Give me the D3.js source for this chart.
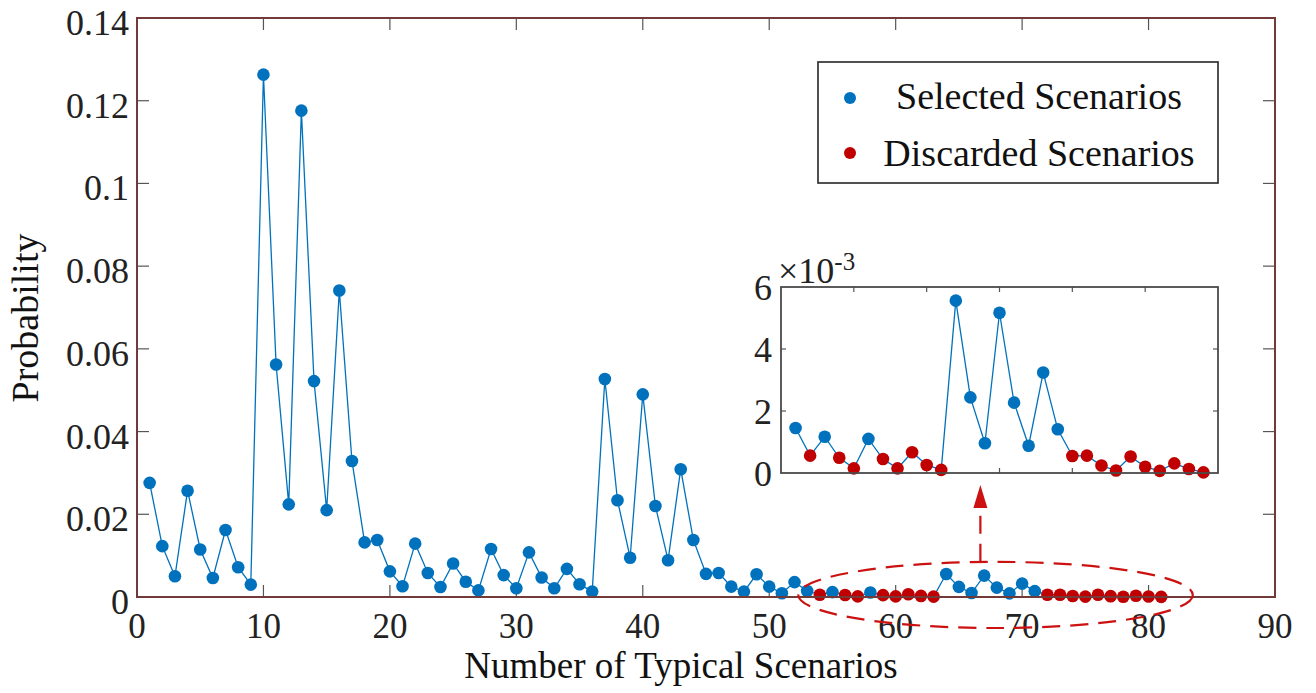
<!DOCTYPE html>
<html>
<head>
<meta charset="utf-8">
<script src="https://cdn.jsdelivr.net/npm/d3@7"></script>
<style>
  html, body { margin: 0; padding: 0; background: #fff; }
  svg { display: block; font-family: "Liberation Serif", "Times New Roman", serif; }
</style>
</head>
<body>
<div id="chart"></div>
<script>
// Data: probability of each typical scenario (scenario number = position + 1)
const probability = [
    0.0276, 0.0123, 0.0050, 0.0257, 0.0115, 0.0046, 0.0162, 0.0072, 0.0030, 0.1263,
    0.0562, 0.0224, 0.1176, 0.0522, 0.0210, 0.0741, 0.0329, 0.0132, 0.0138, 0.0062,
    0.0026, 0.0129, 0.0058, 0.0024, 0.0081, 0.0037, 0.0016, 0.0116, 0.0053, 0.0021,
    0.0108, 0.0047, 0.0021, 0.0068, 0.0031, 0.0013, 0.0527, 0.0234, 0.0095, 0.0490,
    0.0220, 0.0089, 0.0309, 0.0138, 0.0056, 0.0058, 0.0025, 0.0013, 0.0055, 0.0025,
    0.0009, 0.0036, 0.00145, 0.00056, 0.00117, 0.00049, 0.00015, 0.00110, 0.00045, 0.00015,
    0.00067, 0.00026, 0.00010, 0.00556, 0.00244, 0.00096, 0.00517, 0.00227, 0.00088, 0.00324,
    0.00141, 0.00055, 0.00056, 0.00024, 0.00008, 0.00053, 0.00020, 0.00007, 0.00031, 0.00013,
    0.00002
];
const discarded = [54, 56, 57, 59, 60, 61, 62, 63, 72, 73, 74, 75, 76, 77, 78, 79, 80, 81];
const legendLabels = ["Selected Scenarios", "Discarded Scenarios"];

const xTicks = [0, 10, 20, 30, 40, 50, 60, 70, 80, 90];
const yTicks = [0, 0.02, 0.04, 0.06, 0.08, 0.1, 0.12, 0.14];
const insetStart = 53;              // first scenario shown in the zoomed panel
const insetXTicks = [5, 10, 15, 20, 25];
const insetYTicks = [0, 2, 4, 6];   // x10^-3

const blue = "#0072BD";
const red = "#C00000";
const dashRed = "#CC1111";

const points = probability.map((p, i) => ({
    n: i + 1,
    p: p,
    discarded: discarded.includes(i + 1)
}));

const width = 1316, height = 693;
const plot = { left: 137, right: 1275, top: 18, bottom: 597 };

const svg = d3.select("#chart").append("svg")
    .attr("width", width)
    .attr("height", height);

const x = d3.scaleLinear().domain([0, 90]).range([plot.left, plot.right]);
const y = d3.scaleLinear().domain([0, 0.14]).range([plot.bottom, plot.top]);

const fmt = d => String(+d.toFixed(2));

// ticks (inside, all four sides)
const tickG = svg.append("g").attr("stroke", "#555").attr("stroke-width", 1.2);
tickG.selectAll(".xt").data(xTicks.slice(1, -1)).enter().append("line")
    .attr("x1", d => x(d)).attr("x2", d => x(d))
    .attr("y1", plot.bottom).attr("y2", plot.bottom - 12);
tickG.selectAll(".xt2").data(xTicks.slice(1, -1)).enter().append("line")
    .attr("x1", d => x(d)).attr("x2", d => x(d))
    .attr("y1", plot.top).attr("y2", plot.top + 12);
tickG.selectAll(".yt").data(yTicks.slice(1, -1)).enter().append("line")
    .attr("x1", plot.left).attr("x2", plot.left + 12)
    .attr("y1", d => y(d)).attr("y2", d => y(d));
tickG.selectAll(".yt2").data(yTicks.slice(1, -1)).enter().append("line")
    .attr("x1", plot.right).attr("x2", plot.right - 12)
    .attr("y1", d => y(d)).attr("y2", d => y(d));

// tick labels
svg.selectAll(".xl").data(xTicks).enter().append("text")
    .attr("x", d => x(d))
    .attr("y", plot.bottom + 41)
    .attr("text-anchor", "middle")
    .style("font-size", "35px")
    .attr("fill", "#222")
    .text(d => d);

svg.selectAll(".yl").data(yTicks).enter().append("text")
    .attr("x", plot.left - 8)
    .attr("y", d => y(d) + 17)
    .attr("text-anchor", "end")
    .style("font-size", "36px")
    .attr("fill", "#222")
    .text(fmt);

// axis titles
svg.append("text")
    .attr("x", 681)
    .attr("y", 678)
    .attr("text-anchor", "middle")
    .style("font-size", "37px")
    .attr("fill", "#111")
    .text("Number of Typical Scenarios");

svg.append("text")
    .attr("transform", "translate(38,318) rotate(-90)")
    .attr("text-anchor", "middle")
    .style("font-size", "38px")
    .attr("fill", "#111")
    .text("Probability");

// series line + markers
const line = d3.line().x(d => x(d.n)).y(d => y(d.p));
svg.append("path")
    .datum(points)
    .attr("d", line)
    .attr("fill", "none")
    .attr("stroke", blue)
    .attr("stroke-width", 1.3);

svg.selectAll(".pt").data(points).enter().append("circle")
    .attr("cx", d => x(d.n))
    .attr("cy", d => y(d.p))
    .attr("r", 6.3)
    .attr("fill", d => d.discarded ? red : blue);

// frame
svg.append("rect")
    .attr("x", plot.left).attr("y", plot.top)
    .attr("width", plot.right - plot.left)
    .attr("height", plot.bottom - plot.top)
    .attr("fill", "none")
    .attr("stroke", "#733a3a")
    .attr("stroke-width", 2);

// dashed ellipse around the tail + arrow to the inset
const ell = { cx: 67.9, cy: 0.0005, rx: 15.6, ry: 0.008 };
svg.append("ellipse")
    .attr("cx", x(ell.cx))
    .attr("cy", y(ell.cy))
    .attr("rx", x(ell.cx + ell.rx) - x(ell.cx))
    .attr("ry", y(0) - y(ell.ry))
    .attr("fill", "none")
    .attr("stroke", dashRed)
    .attr("stroke-width", 2.2)
    .attr("stroke-dasharray", "18,10");

// inset
const inset = { left: 781, right: 1218, top: 287, bottom: 473 };
const ix = d3.scaleLinear().domain([0, 30]).range([inset.left, inset.right]);
const iy = d3.scaleLinear().domain([0, 6]).range([inset.bottom, inset.top]);
const insetPts = points.filter(d => d.n >= insetStart)
    .map(d => ({ k: d.n - insetStart + 1, v: d.p * 1000, discarded: d.discarded }));

const arrowX = x(66.7);
const arrowTop = inset.bottom + 12;
svg.append("line")
    .attr("x1", arrowX).attr("x2", arrowX)
    .attr("y1", y(ell.cy) - (y(0) - y(ell.ry)))
    .attr("y2", arrowTop + 22)
    .attr("stroke", dashRed)
    .attr("stroke-width", 2.2)
    .attr("stroke-dasharray", "18,10");
svg.append("path")
    .attr("d", `M${arrowX},${arrowTop} L${arrowX - 7},${arrowTop + 23} L${arrowX + 7},${arrowTop + 23} Z`)
    .attr("fill", dashRed);

const ig = svg.append("g");
ig.append("rect")
    .attr("x", inset.left).attr("y", inset.top)
    .attr("width", inset.right - inset.left)
    .attr("height", inset.bottom - inset.top)
    .attr("fill", "#fff");

const itick = ig.append("g").attr("stroke", "#555").attr("stroke-width", 1.2);
itick.selectAll(".a").data(insetXTicks).enter().append("line")
    .attr("x1", d => ix(d)).attr("x2", d => ix(d))
    .attr("y1", inset.bottom).attr("y2", inset.bottom - 5);
itick.selectAll(".b").data(insetXTicks).enter().append("line")
    .attr("x1", d => ix(d)).attr("x2", d => ix(d))
    .attr("y1", inset.top).attr("y2", inset.top + 5);
itick.selectAll(".c").data(insetYTicks.slice(1, -1)).enter().append("line")
    .attr("x1", inset.left).attr("x2", inset.left + 5)
    .attr("y1", d => iy(d)).attr("y2", d => iy(d));
itick.selectAll(".d").data(insetYTicks.slice(1, -1)).enter().append("line")
    .attr("x1", inset.right).attr("x2", inset.right - 5)
    .attr("y1", d => iy(d)).attr("y2", d => iy(d));

ig.selectAll(".iyl").data(insetYTicks).enter().append("text")
    .attr("x", inset.left - 9)
    .attr("y", d => iy(d) + 13)
    .attr("text-anchor", "end")
    .style("font-size", "36px")
    .attr("fill", "#222")
    .text(d => d);

const expo = ig.append("text")
    .attr("x", inset.left - 3)
    .attr("y", 283)
    .style("font-size", "36px")
    .attr("fill", "#222");
expo.append("tspan").text("\u00d710");
expo.append("tspan").attr("dy", -13).style("font-size", "25px").text("-3");

ig.append("path")
    .datum(insetPts)
    .attr("d", d3.line().x(d => ix(d.k)).y(d => iy(d.v)))
    .attr("fill", "none")
    .attr("stroke", blue)
    .attr("stroke-width", 1.3);

ig.selectAll(".ipt").data(insetPts).enter().append("circle")
    .attr("cx", d => ix(d.k))
    .attr("cy", d => iy(d.v))
    .attr("r", 6.3)
    .attr("fill", d => d.discarded ? red : blue);

ig.append("rect")
    .attr("x", inset.left).attr("y", inset.top)
    .attr("width", inset.right - inset.left)
    .attr("height", inset.bottom - inset.top)
    .attr("fill", "none")
    .attr("stroke", "#4a4a4a")
    .attr("stroke-width", 1.8);

// legend
const lg = svg.append("g");
lg.append("rect")
    .attr("x", 818).attr("y", 62)
    .attr("width", 400).attr("height", 121)
    .attr("fill", "#fff")
    .attr("stroke", "#262626")
    .attr("stroke-width", 1.6);

lg.selectAll(".li").data(legendLabels).enter().append("circle")
    .attr("cx", 850)
    .attr("cy", (d, i) => 98 + i * 55)
    .attr("r", 6)
    .attr("fill", (d, i) => i ? red : blue);

lg.selectAll(".lt").data(legendLabels).enter().append("text")
    .attr("x", 1039)
    .attr("y", (d, i) => 109 + i * 57)
    .attr("text-anchor", "middle")
    .style("font-size", "38px")
    .attr("fill", "#111")
    .text(d => d);
</script>
</body>
</html>
